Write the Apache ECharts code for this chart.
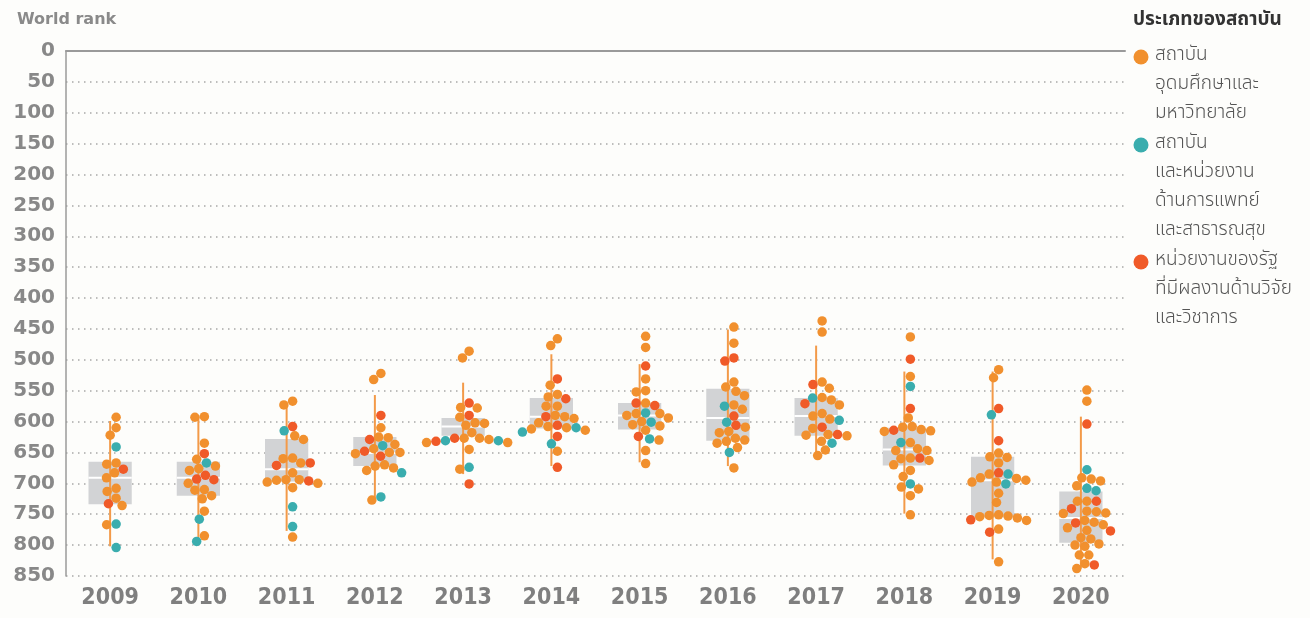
<!DOCTYPE html>
<html>
<head>
<meta charset="utf-8">
<script src="https://cdn.jsdelivr.net/npm/echarts@6/dist/echarts.min.js"></script>
<style>
  html, body { margin: 0; padding: 0; background: #fdfdfb; }
  #main { width: 1310px; height: 618px; }
</style>
</head>
<body>
<div id="main"></div>
<script>
// categories
var years = ['2009', '2010', '2011', '2012', '2013', '2014', '2015', '2016', '2017', '2018', '2019', '2020'];

// range line (top / bottom rank) per year
var rangeLow  = [599, 590, 572, 557, 537, 491, 507, 451, 477, 519, 519, 592];
var rangeHigh = [802, 796, 777, 727, 685, 672, 666, 672, 652, 749, 823, 838];

// grey box: first quartile, median, third quartile
var q1     = [665, 665, 628, 625, 594, 562, 570, 547, 562, 610, 657, 713];
var median = [691, 691, 677, 651, 608, 592, 590, 594, 591, 645, 695, 756];
var q3     = [734, 720, 697, 672, 623, 611, 613, 631, 623, 671, 755, 796];

// world rank of each institution, by type and year
var uniRanks = [
    [593, 610, 622, 667, 669, 683, 691, 708, 713, 724, 736, 767],
    [592, 593, 635, 661, 672, 676, 679, 700, 710, 711, 720, 725, 745, 785],
    [573, 567, 623, 629, 667, 659, 660, 683, 694, 700, 694, 698, 695, 707, 787],
    [522, 532, 610, 625, 626, 637, 644, 650, 650, 652, 672, 670, 679, 675, 727],
    [486, 497, 577, 578, 593, 603, 606, 602, 618, 627, 634, 629, 634, 627, 645, 677],
    [466, 477, 541, 556, 560, 575, 575, 592, 595, 590, 602, 612, 614, 610, 608, 648],
    [462, 480, 531, 550, 552, 570, 587, 594, 590, 587, 605, 607, 600, 614, 630, 647, 668],
    [447, 473, 536, 544, 551, 558, 573, 580, 609, 618, 616, 630, 635, 632, 627, 642, 675],
    [437, 455, 546, 536, 561, 565, 573, 587, 591, 596, 611, 622, 623, 621, 632, 646, 655],
    [463, 527, 594, 609, 613, 608, 616, 615, 634, 644, 647, 647, 660, 663, 659, 670, 679, 689, 709, 706, 720, 751],
    [516, 529, 651, 657, 658, 667, 685, 691, 695, 698, 698, 692, 716, 731, 751, 753, 760, 756, 754, 752, 774, 827],
    [549, 567, 691, 696, 693, 704, 729, 729, 745, 748, 749, 746, 763, 767, 760, 772, 776, 788, 790, 798, 802, 800, 816, 816, 830, 838]
];
var medRanks = [
    [641, 766, 804],
    [667, 758, 794],
    [615, 738, 770],
    [639, 683, 722],
    [631, 631, 674],
    [610, 617, 636],
    [586, 601, 628],
    [575, 601, 650],
    [562, 598, 635],
    [543, 634, 701],
    [589, 685, 701],
    [678, 708, 712]
];
var govRanks = [
    [677, 733],
    [652, 687, 694, 693],
    [608, 671, 667, 696],
    [590, 629, 648, 656],
    [570, 590, 632, 627, 701],
    [531, 563, 592, 606, 624, 674],
    [510, 574, 570, 624],
    [497, 502, 591, 606],
    [540, 571, 609, 621],
    [499, 579, 614, 659],
    [579, 631, 683, 759, 779],
    [604, 729, 741, 764, 777, 832]
];

var typeNames = [
    'สถาบัน\nอุดมศึกษาและ\nมหาวิทยาลัย',
    'สถาบัน\nและหน่วยงาน\nด้านการแพทย์\nและสาธารณสุข',
    'หน่วยงานของรัฐ\nที่มีผลงานด้านวิจัย\nและวิชาการ'
];
var typeColors = ['#f1902e', '#3aadae', '#f05a28'];

// plot size, used for the beeswarm spacing
var gridLeft = 66, gridRight = 185, gridTop = 51, gridBottom = 42;
var plotW = 1310 - gridLeft - gridRight;
var plotH = 618 - gridTop - gridBottom;
var pxPerRank = plotH / 850;
var pxPerCat = plotW / years.length;
var dotSize = 9.5;
var swarmShift = 6; // px, swarm sits a bit right of the range line

// simple beeswarm: each dot goes to the free x closest to the centre
function swarm(points) {
    points.sort(function (a, b) { return a.r - b.r; });
    var placed = [];
    points.forEach(function (p) {
        var y = p.r * pxPerRank;
        var blocks = [];
        placed.forEach(function (q) {
            var dy = Math.abs(q.y - y);
            if (dy < dotSize) {
                var w = Math.sqrt(dotSize * dotSize - dy * dy);
                blocks.push([q.x - w, q.x + w]);
            }
        });
        var cands = [0];
        blocks.forEach(function (b) { cands.push(b[0], b[1]); });
        cands.sort(function (a, b) { return Math.abs(a) - Math.abs(b); });
        var x = 0;
        for (var i = 0; i < cands.length; i++) {
            var c = cands[i];
            var free = blocks.every(function (b) { return c <= b[0] + 1e-6 || c >= b[1] - 1e-6; });
            if (free) { x = c; break; }
        }
        placed.push({ x: x, y: y, r: p.r, t: p.t });
    });
    return placed;
}

var dotData = [[], [], []];
years.forEach(function (yr, i) {
    var pts = [];
    [uniRanks, medRanks, govRanks].forEach(function (arr, t) {
        arr[i].forEach(function (r) { pts.push({ r: r, t: t }); });
    });
    swarm(pts).forEach(function (p) {
        dotData[p.t].push([i + (p.x + swarmShift) / pxPerCat, p.r]);
    });
});

var boxData = years.map(function (y, i) { return [i, q1[i], median[i], q3[i]]; });
var rangeData = years.map(function (y, i) { return [i, rangeLow[i], rangeHigh[i]]; });

var chartDom = document.getElementById('main');
var myChart = echarts.init(chartDom, null, { renderer: 'canvas' });

var legendGraphics = [{
    type: 'text',
    left: 1133,
    top: 12,
    style: {
        text: 'ประเภทของสถาบัน',
        font: 'bold 19px "Noto Sans Thai", "Noto Sans", sans-serif',
        fill: '#333333'
    }
}];
var legendTops = [57, 145, 262];
typeNames.forEach(function (name, t) {
    legendGraphics.push({
        type: 'circle',
        shape: { cx: 1141, cy: legendTops[t], r: 7.5 },
        style: { fill: typeColors[t] }
    });
    legendGraphics.push({
        type: 'text',
        x: 1155,
        y: legendTops[t] - 15,
        style: {
            text: name,
            font: '300 19px "Noto Sans Thai", "Noto Sans", sans-serif',
            fill: '#555555',
            lineHeight: 29,
            verticalAlign: 'top'
        }
    });
});

var option = {
    backgroundColor: '#fdfdfb',
    animation: false,
    title: {
        text: 'World rank',
        left: 12,
        top: 7,
        textStyle: {
            fontFamily: 'DejaVu Sans',
            fontWeight: 'bold',
            fontSize: 16,
            color: '#8a8a8a'
        }
    },
    grid: {
        left: gridLeft,
        right: gridRight,
        top: gridTop,
        bottom: gridBottom
    },
    xAxis: [
        {
            type: 'category',
            data: years,
            axisTick: { show: false },
            axisLine: { lineStyle: { color: '#9a9a9a', width: 2 } },
            axisLabel: {
                margin: 11,
                fontFamily: 'DejaVu Sans Condensed',
                fontWeight: 'bold',
                fontSize: 23,
                color: '#7f7f7f'
            },
            splitLine: { show: false }
        },
        {
            type: 'value',
            min: -0.5,
            max: years.length - 0.5,
            show: false
        }
    ],
    yAxis: {
        type: 'value',
        inverse: true,
        min: 0,
        max: 850,
        interval: 50,
        axisLine: { show: true, onZero: false, lineStyle: { color: '#9a9a9a', width: 1.5 } },
        axisTick: { show: false },
        axisLabel: {
            margin: 11,
            fontFamily: 'DejaVu Sans',
            fontWeight: 'bold',
            fontSize: 20,
            color: '#888888'
        },
        splitLine: {
            show: true,
            lineStyle: { color: '#a8a8a8', width: 1.5, type: [1.5, 4.5] }
        }
    },
    graphic: legendGraphics,
    series: [
        {
            type: 'custom',
            xAxisIndex: 0,
            z: 1,
            data: boxData,
            renderItem: function (params, api) {
                var top = api.coord([api.value(0), api.value(1)]);
                var mid = api.coord([api.value(0), api.value(2)]);
                var bot = api.coord([api.value(0), api.value(3)]);
                var w = api.size([1, 0])[0] * 0.49;
                return {
                    type: 'group',
                    children: [
                        {
                            type: 'rect',
                            shape: { x: top[0] - w / 2, y: top[1], width: w, height: bot[1] - top[1] },
                            style: { fill: '#d2d3d5' }
                        },
                        {
                            type: 'line',
                            shape: { x1: top[0] - w / 2, y1: mid[1], x2: top[0] + w / 2, y2: mid[1] },
                            style: { stroke: '#ffffff', lineWidth: 2 }
                        }
                    ]
                };
            }
        },
        {
            type: 'custom',
            xAxisIndex: 0,
            z: 2,
            data: rangeData,
            renderItem: function (params, api) {
                var a = api.coord([api.value(0), api.value(1)]);
                var b = api.coord([api.value(0), api.value(2)]);
                return {
                    type: 'line',
                    shape: { x1: a[0], y1: a[1], x2: b[0], y2: b[1] },
                    style: { stroke: '#f39a48', lineWidth: 2 }
                };
            }
        },
        {
            name: typeNames[0],
            type: 'scatter',
            xAxisIndex: 1,
            z: 3,
            symbolSize: dotSize,
            itemStyle: { color: typeColors[0], opacity: 1 },
            data: dotData[0]
        },
        {
            name: typeNames[1],
            type: 'scatter',
            xAxisIndex: 1,
            z: 3,
            symbolSize: dotSize,
            itemStyle: { color: typeColors[1], opacity: 1 },
            data: dotData[1]
        },
        {
            name: typeNames[2],
            type: 'scatter',
            xAxisIndex: 1,
            z: 3,
            symbolSize: dotSize,
            itemStyle: { color: typeColors[2], opacity: 1 },
            data: dotData[2]
        }
    ]
};

option && myChart.setOption(option);
</script>
</body>
</html>
